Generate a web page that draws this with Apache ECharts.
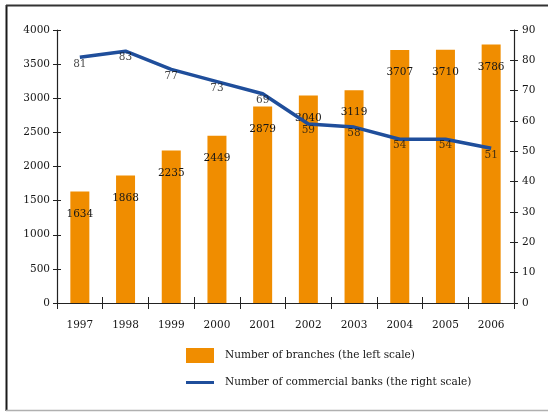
<!DOCTYPE html>
<html>
<head>
<meta charset="utf-8">
<script src="https://cdn.jsdelivr.net/npm/echarts@6/dist/echarts.min.js"></script>
<style>
  html, body { margin: 0; padding: 0; background: #fff; }
  #chart { width: 548px; height: 412px; }
</style>
</head>
<body>
<div id="chart"></div>
<script>
// Years on the category axis
const years = ['1997', '1998', '1999', '2000', '2001', '2002', '2003', '2004', '2005', '2006'];
// Number of branches (left scale)
const branches = [1634, 1868, 2235, 2449, 2879, 3040, 3119, 3707, 3710, 3786];
// Number of commercial banks (right scale)
const banks = [81, 83, 77, 73, 69, 59, 58, 54, 54, 51];

const branchName = 'Number of branches (the left scale)';
const bankName = 'Number of commercial banks (the right scale)';

const FONT = 'DejaVu Serif';
const TEXT = '#161616';
const AXIS = '#222';
const ORANGE = '#F08D00';
const BLUE = '#1F4E9B';

const chart = echarts.init(document.getElementById('chart'), null, { renderer: 'canvas' });

const labelBase = { fontFamily: FONT, fontSize: 10.5, color: TEXT };
const plain = v => String(v);

chart.setOption({
  animation: false,
  backgroundColor: '#fff',
  grid: { left: 57, right: 34, top: 30, bottom: 109, containLabel: false },
  legend: {
    orient: 'vertical',
    left: 181,
    top: 343,
    itemWidth: 28,
    itemHeight: 15,
    itemGap: 14,
    symbolKeepAspect: true,
    data: [
      { name: branchName, icon: 'rect' },
      { name: bankName, icon: 'path://M0,0H30V3.2H0Z' }
    ],
    textStyle: { fontFamily: FONT, fontSize: 10.5, color: TEXT, padding: [0, 0, 0, 6] }
  },
  xAxis: [
    {
      type: 'category',
      data: years,
      axisLine: { lineStyle: { color: AXIS, width: 1.2 } },
      axisTick: { show: true, length: 6, lineStyle: { color: AXIS } },
      axisLabel: Object.assign({ margin: 17 }, labelBase)
    },
    {
      // inward half of the crossing tick marks
      type: 'category',
      data: years,
      position: 'bottom',
      axisLine: { show: false },
      axisTick: { show: true, inside: true, length: 6, lineStyle: { color: AXIS } },
      axisLabel: { show: false }
    }
  ],
  yAxis: [
    {
      type: 'value',
      position: 'left',
      min: 0, max: 4000, interval: 500,
      splitLine: { show: false },
      axisLine: { show: true, lineStyle: { color: AXIS, width: 1.2 } },
      axisTick: { show: true, length: 4, lineStyle: { color: AXIS } },
      axisLabel: Object.assign({ margin: 7, formatter: plain }, labelBase)
    },
    {
      type: 'value',
      position: 'right',
      min: 0, max: 90, interval: 10,
      splitLine: { show: false },
      axisLine: { show: true, lineStyle: { color: AXIS, width: 1.2 } },
      axisTick: { show: true, length: 4, lineStyle: { color: AXIS } },
      axisLabel: Object.assign({ margin: 8, formatter: plain }, labelBase)
    },
    {
      type: 'value',
      position: 'left',
      min: 0, max: 4000, interval: 500,
      splitLine: { show: false },
      axisLine: { show: false },
      axisTick: { show: true, inside: true, length: 4, lineStyle: { color: AXIS } },
      axisLabel: { show: false }
    },
    {
      type: 'value',
      position: 'right',
      min: 0, max: 90, interval: 10,
      splitLine: { show: false },
      axisLine: { show: false },
      axisTick: { show: true, inside: true, length: 4, lineStyle: { color: AXIS } },
      axisLabel: { show: false }
    }
  ],
  series: [
    {
      name: branchName,
      type: 'bar',
      xAxisIndex: 0,
      yAxisIndex: 0,
      data: branches,
      barWidth: 19,
      itemStyle: { color: ORANGE },
      label: Object.assign({ show: true, position: 'insideTop', distance: 17 }, labelBase)
    },
    {
      name: bankName,
      type: 'line',
      xAxisIndex: 0,
      yAxisIndex: 1,
      data: banks,
      symbol: 'none',
      lineStyle: { color: BLUE, width: 3.5 },
      itemStyle: { color: BLUE },
      z: 3
    },
    {
      // value labels for the bank count, set just under the line
      name: 'bankLabels',
      type: 'scatter',
      xAxisIndex: 0,
      yAxisIndex: 1,
      data: banks,
      symbolSize: 0,
      silent: true,
      label: Object.assign({ show: true, position: 'bottom', distance: 1, formatter: '{c}' }, labelBase),
      z: 4
    }
  ],
  graphic: [
    { type: 'line', shape: { x1: 6.5, y1: 5, x2: 6.5, y2: 411 }, style: { stroke: '#1a1a1a', lineWidth: 2 } },
    { type: 'line', shape: { x1: 6, y1: 5.5, x2: 548, y2: 5.5 }, style: { stroke: '#333', lineWidth: 2 } },
    { type: 'line', shape: { x1: 6, y1: 410.5, x2: 548, y2: 410.5 }, style: { stroke: '#b0b0b0', lineWidth: 1.5 } }
  ]
});
</script>
</body>
</html>
